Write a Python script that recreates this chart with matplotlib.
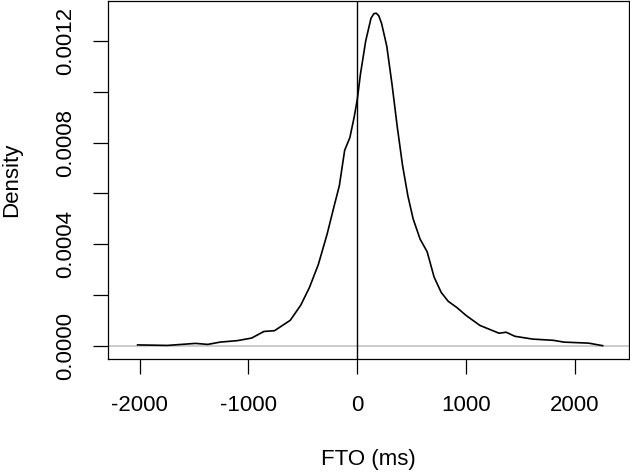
import numpy as np
import matplotlib.pyplot as plt

plt.rcParams['font.family'] = ['Liberation Sans', 'DejaVu Sans']

# density curve
fto = [-2019, -1745, -1487, -1374, -1261, -1100, -971, -858, -761, -616,
       -519, -439, -358, -277, -213, -165, -116, -68, -29, 0, 29, 55, 77,
       126, 152, 174, 197, 223, 271, 319, 368, 416, 465, 513, 577, 642,
       706, 771, 835, 916, 997, 1126, 1223, 1303, 1368, 1448, 1610, 1803,
       1900, 2126, 2255]
dens = [0.000003, 0.000001, 0.000009, 0.000005, 0.000014, 0.00002, 0.00003,
        0.000056, 0.000059, 0.0001, 0.00016, 0.00023, 0.00032, 0.00044,
        0.00055, 0.00063, 0.00077, 0.00082, 0.0009, 0.00097, 0.00107,
        0.00114, 0.0012, 0.00129, 0.001308, 0.00131, 0.0013, 0.00127,
        0.00118, 0.00103, 0.00086, 0.00071, 0.00059, 0.0005, 0.00042,
        0.00037, 0.00027, 0.00021, 0.000175, 0.00015, 0.00012, 0.00008,
        0.000063, 0.000049, 0.000053, 0.000037, 0.000026, 0.000021,
        0.000014, 0.00001, 0.0]

xticks = [-2000, -1000, 0, 1000, 2000]
yticks = [0, 0.0002, 0.0004, 0.0006, 0.0008, 0.0010, 0.0012]
ylabs = ["0.0000", "", "0.0004", "", "0.0008", "", "0.0012"]

fig = plt.figure(figsize=(6.3, 4.73), dpi=100)
ax = fig.add_axes([108/630, 114/473, 521/630, 358/473])

ax.axhline(0, color="#bebebe", lw=1.1)
ax.axvline(0, color="black", lw=1.0)
ax.plot(fto, dens, color="black", lw=1.2)

ax.set_xlim(-2291, 2497)
ax.set_ylim(-0.0000525, 0.001358)
ax.set_xticks(xticks)
ax.set_xticklabels([str(t) for t in xticks])
ax.set_yticks(yticks)
ax.set_yticklabels(ylabs, rotation=90, va="center")
ax.tick_params(axis="x", labelsize=16, length=10.8, width=0.9, pad=15)
ax.tick_params(axis="y", labelsize=16, length=10.8, width=0.9, pad=12)

for s in ax.spines.values():
    s.set_linewidth(0.9)

ax.set_xlabel("FTO (ms)", fontsize=16, labelpad=24)
ax.set_ylabel("Density", fontsize=16, labelpad=24)

plt.savefig("out.png")
